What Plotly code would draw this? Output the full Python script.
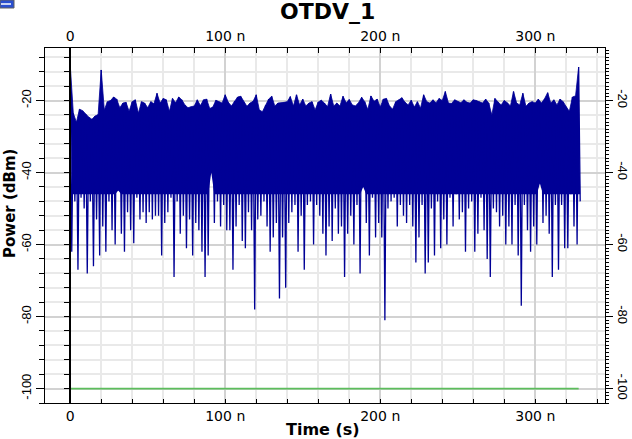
import plotly.graph_objects as go

# ---------------- data ----------------
title_text = "OTDV_1"
x_title = "Time (s)"
y_title = "Power (dBm)"

t_step_ns = 2.0  # spacing of the envelope samples (ns)

upper_dbm = [
    -10, -23.5, -26, -22.4, -22.8, -23.8, -24.6, -25.2, -24.3, -23.9,
    -11.5, -22.6, -20.3, -20, -19, -19.6, -22, -20.7, -20.5, -23,
    -20.3, -19.8, -23.5, -20.3, -20.7, -22, -20.3, -20.9, -18, -20.7,
    -19.4, -19.8, -23, -19.4, -20.6, -19, -19.8, -21.2, -22, -21.7,
    -21.5, -19.8, -21.4, -19.8, -19.6, -22.2, -21.8, -19.9, -20.3, -20.7,
    -18.4, -20.5, -21.5, -20.2, -19, -18.8, -20.4, -21.6, -20.7, -20.2,
    -18.4, -22.6, -23.1, -21.3, -19.6, -18.8, -21.5, -20.7, -20.7, -20.5,
    -20.3, -18.9, -21.5, -18.4, -21.2, -19.6, -21.5, -20.7, -20.3, -22.6,
    -20.4, -19.9, -20.7, -21.7, -18.2, -21.5, -20.7, -21.5, -18.8, -20.6,
    -19.7, -21.2, -21.5, -20.6, -19.1, -20.3, -22.5, -18.7, -20.2, -19.6,
    -21.8, -19.6, -19.4, -21.5, -22.4, -20.3, -19.8, -19.2, -20.5, -21.2,
    -19.9, -21.8, -20.3, -22.1, -18.4, -20.3, -20.7, -19.8, -20.6, -19.4,
    -20, -17.5, -20.7, -20.8, -19.8, -20.3, -20.6, -19.8, -20.5, -20.7,
    -19.8, -20, -20.3, -20.7, -19.6, -20.7, -24, -19.4, -20.4, -21.2,
    -20, -20.6, -21.5, -17.5, -20.7, -21.2, -18, -21.6, -20.7, -20.3,
    -20.7, -19.6, -20.7, -19.5, -17.8, -20.7, -19.8, -21.2, -19.6, -20.3,
    -21.7, -23, -19, -18.7, -10.7,
]

lower_dbm = [
    -62, -48, -67, -47, -50, -68, -48, -66, -53, -63,
    -55, -62, -48, -56, -60, -45, -57, -62, -51, -56,
    -59.6, -47, -53, -51, -54, -51, -53, -52, -52, -63,
    -54, -51, -47, -69, -48, -57, -52, -61, -53, -63,
    -54, -56, -62, -69, -63, -40, -54, -48, -55, -49,
    -56, -56, -67, -55, -49, -59, -61, -51, -56, -78,
    -53, -52, -48, -55, -62, -58, -54, -75, -58, -72,
    -54, -51, -49, -62, -52, -67, -49, -48, -60, -49,
    -52, -57, -63, -55, -59, -50, -57, -55, -69, -57,
    -52, -60, -49, -68, -44, -54, -63, -47, -58, -54,
    -58, -81, -50, -48, -47, -55, -49, -52, -54, -49,
    -55, -65, -58, -49, -68, -65, -50, -63, -48, -61,
    -53, -60, -47, -55, -46, -53, -51, -62, -50, -48,
    -62, -57, -47, -56, -64, -69, -50, -51, -55, -52,
    -60, -55, -60, -49, -63, -77, -49, -56, -62, -55,
    -60, -43, -54, -52, -57, -69, -49, -67, -49, -61,
    -61, -46, -55, -60, -48,
]

noise_floor_t_ns = [0, 328]
noise_floor_dbm = [-100, -100]

x_tick_vals_ns = [0, 100, 200, 300]
x_tick_text = ["0", "100 n", "200 n", "300 n"]
y_tick_vals = [-100, -80, -60, -40, -20]
y_tick_text = ["-100", "-80", "-60", "-40", "-20"]

# ---------------- build the traces ----------------
NS = 1e-9
SOLID_FLOOR = -46  # depth down to which the dense trace reads as solid colour

t_top = [i * t_step_ns * NS for i in range(len(upper_dbm))]
t_bot = [(i * t_step_ns + t_step_ns / 2) * NS for i in range(len(lower_dbm))]
core_lower = [max(v, SOLID_FLOOR) for v in lower_dbm]

sig_x, sig_y = [], []
for tt, tb, u, l in zip(t_top, t_bot, upper_dbm, lower_dbm):
    sig_x += [tt, tb]
    sig_y += [u, l]

x_range = [-16.26 * NS, 345.0 * NS]
y_range = [-104.0, -5.4]
NAVY = "#000096"

fig = go.Figure()
fig.add_trace(go.Scatter(x=t_bot, y=core_lower, mode="lines",
                         line=dict(color=NAVY, width=0), hoverinfo="skip",
                         showlegend=False))
fig.add_trace(go.Scatter(x=t_top, y=upper_dbm, mode="lines", fill="tonexty",
                         fillcolor=NAVY, line=dict(color=NAVY, width=0.8),
                         hoverinfo="skip", showlegend=False))
fig.add_trace(go.Scatter(x=sig_x, y=sig_y, mode="lines",
                         line=dict(color=NAVY, width=1.3),
                         hoverinfo="skip", showlegend=False))
fig.add_trace(go.Scatter(x=[v * NS for v in noise_floor_t_ns], y=noise_floor_dbm,
                         mode="lines", line=dict(color="#5cbd5c", width=1.6),
                         showlegend=False))
# empty traces to bind the extra axes
fig.add_trace(go.Scatter(x=[], y=[], xaxis="x2", yaxis="y", showlegend=False))
fig.add_trace(go.Scatter(x=[], y=[], xaxis="x", yaxis="y2", showlegend=False))
fig.add_trace(go.Scatter(x=[], y=[], xaxis="x", yaxis="y3", showlegend=False))

tick_font_x = dict(family="DejaVu Sans", size=14, color="#000000")
tick_font_y = dict(family="Liberation Sans", size=13, color="#000000")

fig.update_layout(
    width=632, height=439,
    margin=dict(l=45, r=27, t=48, b=36, autoexpand=False),
    paper_bgcolor="white", plot_bgcolor="white",
    showlegend=False,
    xaxis=dict(
        range=x_range, tickmode="array", automargin=False,
        tickvals=[v * NS for v in x_tick_vals_ns], ticktext=x_tick_text,
        ticks="inside", ticklen=4, tickcolor="black", tickwidth=1,
        showline=True, linecolor="black", linewidth=1,
        showgrid=True, gridcolor="#d2d2d2", gridwidth=1.5,
        zeroline=False, tickfont=tick_font_x, ticklabelstandoff=0,
        minor=dict(tickmode="linear", tick0=0, dtick=20 * NS, ticks="inside",
                   ticklen=4, tickcolor="black", showgrid=True,
                   gridcolor="#e9e9e9", gridwidth=1.5),
    ),
    xaxis2=dict(
        overlaying="x", side="top", anchor="y", range=x_range, automargin=False,
        tickmode="array", tickvals=[v * NS for v in x_tick_vals_ns], ticktext=x_tick_text,
        ticks="inside", ticklen=5, tickcolor="black",
        showline=True, linecolor="black", linewidth=1,
        showgrid=False, zeroline=False, tickfont=tick_font_x,
        minor=dict(tickmode="linear", tick0=0, dtick=20 * NS, ticks="inside",
                   ticklen=5, tickcolor="black", showgrid=False),
    ),
    yaxis=dict(
        range=y_range, tickmode="array", tickvals=y_tick_vals, ticktext=y_tick_text,
        automargin=False,
        ticks="outside", ticklen=8, tickcolor="black",
        showline=True, linecolor="black", linewidth=1,
        showgrid=True, gridcolor="#d2d2d2", gridwidth=1.5,
        zeroline=False, tickangle=-90, tickfont=tick_font_y, ticklabelstandoff=0,
        minor=dict(tickmode="linear", tick0=0, dtick=4, ticks="outside",
                   ticklen=5, tickcolor="black", showgrid=True,
                   gridcolor="#e9e9e9", gridwidth=1.5),
    ),
    yaxis2=dict(
        overlaying="y", side="right", anchor="x", range=y_range, automargin=False,
        tickmode="array", tickvals=y_tick_vals, ticktext=y_tick_text,
        ticks="outside", ticklen=7, tickcolor="black",
        showline=True, linecolor="black", linewidth=1,
        showgrid=False, zeroline=False, tickangle=90, tickfont=tick_font_y,
        ticklabelstandoff=0,
        minor=dict(tickmode="linear", tick0=0, dtick=1, ticks="outside",
                   ticklen=3, tickcolor="black", showgrid=False),
    ),
    yaxis3=dict(
        overlaying="y", side="left", anchor="free", position=25.2 / 560,
        range=y_range, showticklabels=False, automargin=False,
        tickmode="linear", tick0=0, dtick=4, ticks="outside", ticklen=5,
        tickcolor="black", showline=True, linecolor="black", linewidth=1.5,
        showgrid=False, zeroline=False,
    ),
    annotations=[
        dict(text="<b>%s</b>" % title_text, xref="paper", yref="paper",
             x=(327 - 45) / 560, y=(403 - 12) / 355, xanchor="center", yanchor="middle",
             showarrow=False, font=dict(family="DejaVu Sans", size=22, color="#000000")),
        dict(text="<b>%s</b>" % x_title, xref="paper", yref="paper",
             x=(323 - 45) / 560, y=(403 - 430) / 355, xanchor="center", yanchor="middle",
             showarrow=False, font=dict(family="DejaVu Sans", size=16, color="#000000")),
        dict(text="<b>%s</b>" % y_title, xref="paper", yref="paper",
             x=(10 - 45) / 560, y=(403 - 204) / 355, xanchor="center", yanchor="middle",
             textangle=-90, showarrow=False,
             font=dict(family="DejaVu Sans", size=15, color="#000000")),
    ],
    shapes=[
        dict(type="rect", xref="paper", yref="paper",
             x0=-45 / 560, x1=(14 - 45) / 560, y0=(403 - 8) / 355, y1=403 / 355,
             fillcolor="#2a4fd0", line=dict(color="#606060", width=1)),
        dict(type="line", xref="paper", yref="paper",
             x0=-44 / 560, x1=(11 - 45) / 560, y0=(403 - 4) / 355, y1=(403 - 4) / 355,
             line=dict(color="white", width=1.5)),
    ],
)

fig.write_html(
    "out.html",
    config={"displayModeBar": False},
    post_script="document.body.style.margin='0px';document.body.style.overflow='hidden';",
)
